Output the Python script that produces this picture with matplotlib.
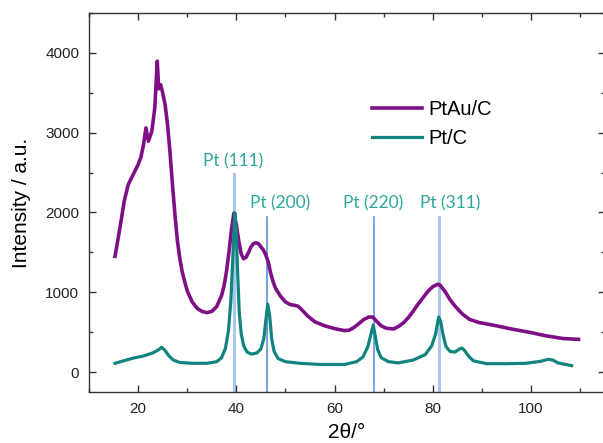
import numpy as np
import matplotlib
matplotlib.use("Agg")
import matplotlib.pyplot as plt
from matplotlib.ticker import MultipleLocator

plt.rcParams['font.family'] = ['Liberation Sans', 'DejaVu Sans']

# XRD pattern, PtAu/C
ptau_x = [15.3, 16.3, 17.2, 18.0, 19.0, 20.0, 20.6, 21.1, 21.6, 22.1, 22.8, 23.4,
          23.9, 24.2, 24.6, 25.0, 25.5, 26.0, 26.5, 27.0, 27.5, 28.0, 28.5, 29.0,
          29.5, 30.0, 31.0, 32.0, 33.0, 34.0, 35.0, 36.0, 37.0, 37.5, 38.0, 38.5,
          39.0, 39.5, 40.0, 40.5, 41.0, 41.5, 42.0, 42.5, 43.0, 43.5, 44.0, 44.5,
          45.0, 45.5, 46.0, 46.5, 47.0, 47.5, 48.0, 49.0, 50.0, 51.0, 52.0, 52.6,
          53.5, 54.5, 56.0, 58.0, 60.0, 62.0, 63.0, 64.0, 65.0, 66.0, 67.0, 67.8,
          68.5, 69.5, 70.5, 72.0, 73.0, 74.0, 75.0, 76.0, 77.0, 78.0, 79.0, 80.0,
          81.0, 81.5, 82.5, 83.5, 84.5, 86.0, 87.5, 89.5, 93.0, 96.0, 100.0, 103.0,
          106.6, 109.7]
ptau_y = [1450, 1808, 2150, 2351, 2476, 2600, 2700, 2850, 3060, 2893, 3019, 3311,
          3896, 3550, 3600, 3500, 3350, 3100, 2750, 2350, 1975, 1650, 1420, 1250,
          1130, 1020, 880, 800, 760, 745, 760, 820, 960, 1080, 1260, 1500,
          1780, 1990, 1850, 1640, 1480, 1420, 1440, 1500, 1570, 1610, 1620, 1610,
          1570, 1530, 1470, 1380, 1240, 1130, 1050, 950, 880, 845, 835, 825,
          770, 705, 630, 580, 545, 520, 525, 560, 610, 660, 690, 690,
          640, 580, 550, 540, 570, 615, 680, 760, 850, 930, 1010, 1070,
          1100, 1090, 1010, 910, 830, 730, 660, 620, 580, 540, 495, 455,
          420, 410]

# XRD pattern, Pt/C
pt_x = [15.3, 17.0, 19.0, 21.0, 23.0, 24.2, 24.8, 25.5, 26.3, 27.2, 28.5, 31.0,
        34.0, 36.0, 37.0, 37.8, 38.4, 38.9, 39.3, 39.7, 40.0, 40.3, 40.6, 41.0,
        41.5, 42.2, 43.1, 44.2, 45.0, 45.6, 46.0, 46.4, 46.8, 47.2, 47.7, 48.5,
        50.0, 53.0, 57.0, 62.0, 64.5, 65.8, 66.8, 67.4, 67.9, 68.3, 68.8, 69.5,
        71.0, 73.0, 76.0, 78.5, 79.8, 80.6, 81.2, 81.6, 82.1, 82.7, 83.5, 84.5,
        85.5, 86.0, 86.5, 87.3, 88.3, 91.0, 95.0, 99.0, 102.0, 103.5, 104.5, 105.5,
        108.3]
pt_y = [110, 140, 175, 200, 240, 280, 310, 270, 200, 150, 120, 110,
        110, 130, 180, 300, 520, 900, 1450, 1996, 1750, 1200, 750, 480,
        330, 250, 225, 240, 290, 420, 640, 850, 700, 420, 260, 170,
        130, 110, 95, 95, 130, 190, 320, 470, 590, 450, 280, 180,
        130, 115, 150, 220, 330, 480, 690, 640, 470, 320, 260, 250,
        290, 300, 270, 200, 140, 105, 105, 110, 135, 160, 150, 115,
        80]

# Pt reflections
refl_labels = ["Pt (111)", "Pt (200)", "Pt (220)", "Pt (311)"]
refl_pos = [39.6, 46.2, 68.1, 81.2]
refl_top = [2480, 1940, 1940, 1940]
refl_colors = ["#a9c7ea", "#4f86d0", "#6f9fdc", "#a9c7ea"]
refl_widths = [2.2, 1.1, 1.3, 2.2]
label_xy = [(39.3, 2643), (48.9, 2117), (67.9, 2117), (83.5, 2117)]

fig = plt.figure(figsize=(6.03, 4.43), dpi=100)
ax = fig.add_axes([0.1476, 0.1151, 0.855, 0.8555])

for pos, top, c, w in zip(refl_pos, refl_top, refl_colors, refl_widths):
    ax.plot([pos, pos], [-250, top], color=c, lw=w, zorder=1)

ax.plot(ptau_x, ptau_y, color="#7f0f86", lw=2.6, label="PtAu/C", zorder=2,
        solid_joinstyle="round")
ax.plot(pt_x, pt_y, color="#12847f", lw=2.3, label="Pt/C", zorder=3,
        solid_joinstyle="round")

for lab, (tx, ty) in zip(refl_labels, label_xy):
    ax.text(tx, ty, lab, color="#2ea79c", fontsize=12.5, family=["Lato", "DejaVu Sans"],
            ha="center", va="center")

ax.set_xlim(10, 115)
ax.set_ylim(-250, 4500)
ax.xaxis.set_major_locator(MultipleLocator(20))
ax.xaxis.set_minor_locator(MultipleLocator(10))
ax.yaxis.set_major_locator(MultipleLocator(1000))
ax.yaxis.set_minor_locator(MultipleLocator(500))
ax.tick_params(which="both", direction="in", top=True, right=True, colors="#333333",
               labelcolor="#222222", labelsize=11)
ax.tick_params(which="major", length=5, width=1)
ax.tick_params(which="minor", length=3, width=1)
ax.tick_params(axis="y", pad=7)
ax.tick_params(axis="x", pad=7)
for s in ax.spines.values():
    s.set_color("#333333")
    s.set_linewidth(1.0)

ax.set_ylabel("Intensity / a.u.", fontsize=15, labelpad=10)
ax.set_xlabel("2θ/°", fontsize=15, labelpad=5)

ax.legend(frameon=False, loc="upper left", bbox_to_anchor=(0.513, 0.818),
          fontsize=14.5, handlelength=2.5, handletextpad=0.3, labelspacing=0.5)

fig.savefig("out.png", dpi=100)
